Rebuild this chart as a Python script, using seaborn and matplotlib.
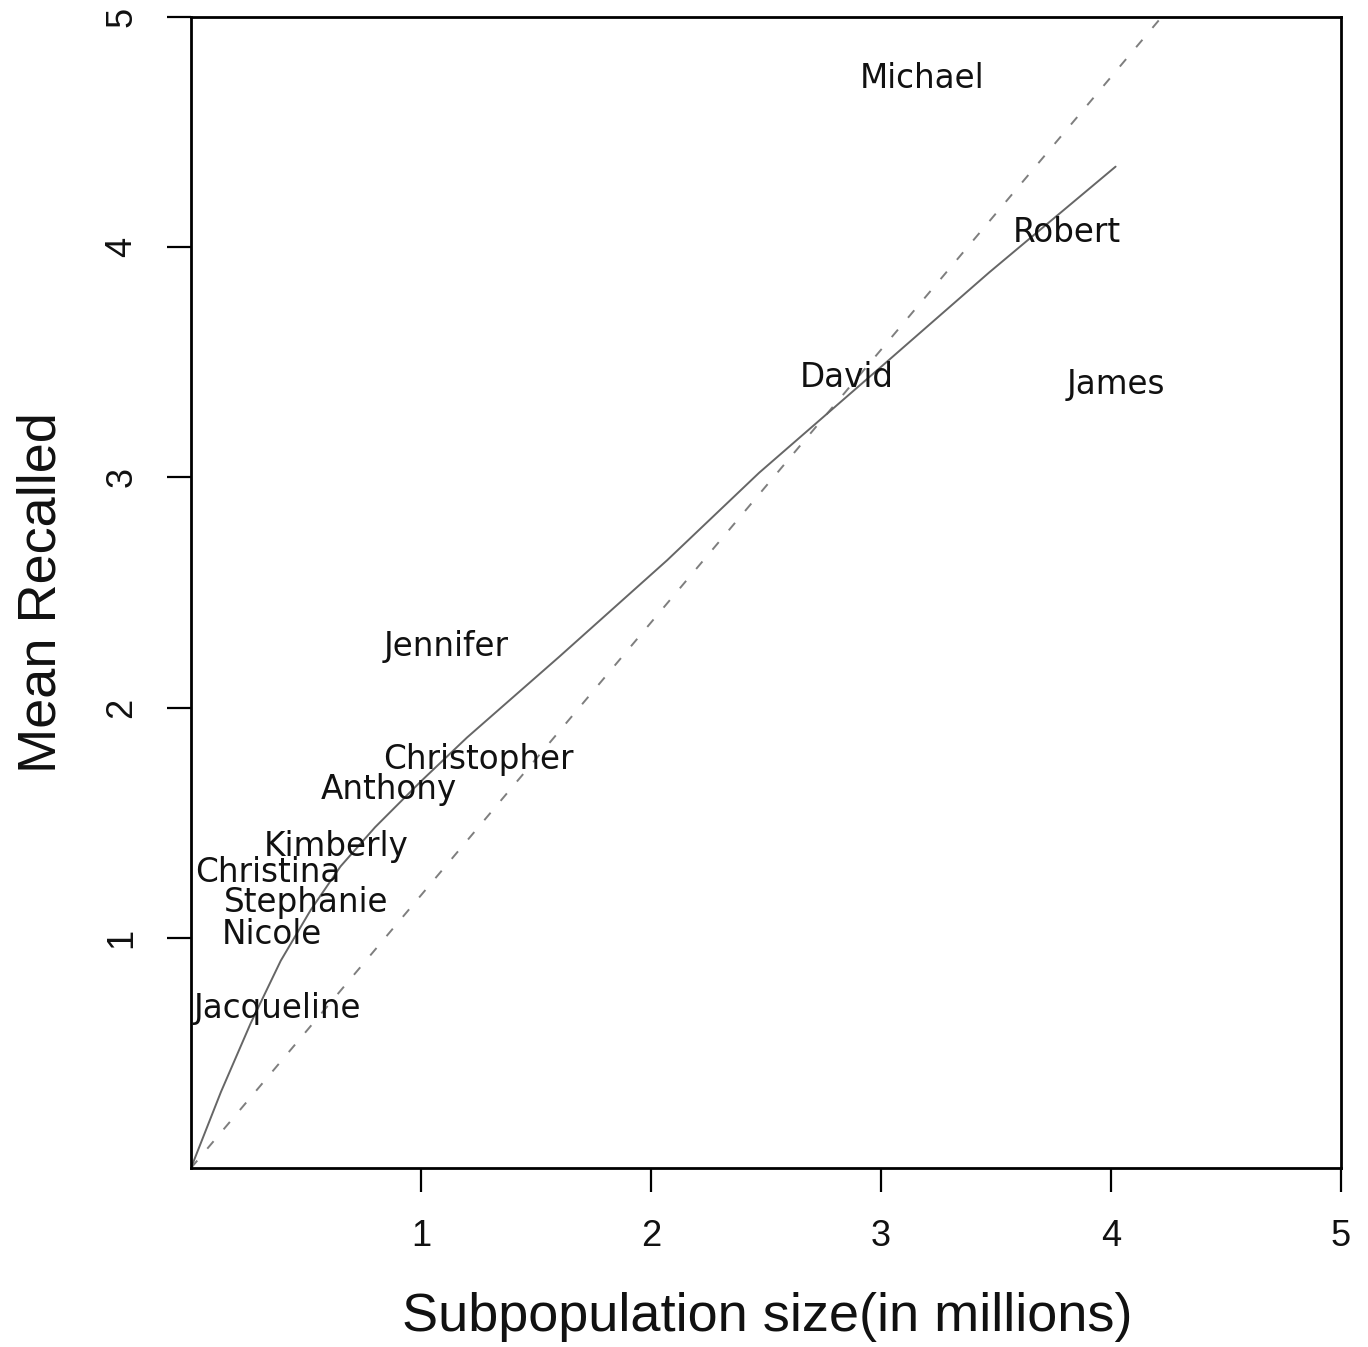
import matplotlib
matplotlib.use('Agg')
import matplotlib.pyplot as plt
import seaborn as sns
import pandas as pd

# ── DATA ──────────────────────────────────────────────────────────────────────
names = ['Michael', 'Robert', 'David', 'James', 'Jennifer', 'Christopher',
         'Anthony', 'Kimberly', 'Christina', 'Stephanie', 'Nicole', 'Jacqueline']
size_millions = [3.18, 3.81, 2.85, 4.02, 1.11, 1.25, 0.86, 0.63, 0.335, 0.50, 0.35, 0.375]
mean_recalled = [4.735, 4.065, 3.435, 3.405, 2.265, 1.775, 1.645, 1.395, 1.285, 1.155, 1.015, 0.695]

# fitted curve (solid)
fit_x = [0, 0.13, 0.26, 0.39, 0.52, 0.65, 0.80, 1.00, 1.20, 1.60, 2.07, 2.47, 3.00, 3.47, 4.02]
fit_y = [0, 0.33, 0.63, 0.90, 1.12, 1.31, 1.48, 1.68, 1.87, 2.22, 2.64, 3.02, 3.48, 3.89, 4.35]

# reference line (dashed)
ref_x = [0, 4.22]
ref_y = [0, 5.0]

x_ticks = [1, 2, 3, 4, 5]
y_ticks = [1, 2, 3, 4, 5]

labels_df = pd.DataFrame({'name': names, 'x': size_millions, 'y': mean_recalled})
fit_df = pd.DataFrame({'x': fit_x, 'y': fit_y})
ref_df = pd.DataFrame({'x': ref_x, 'y': ref_y})

# ── STYLE ─────────────────────────────────────────────────────────────────────
sns.set_theme(style='white')
narrow = ['Liberation Sans Narrow', 'Liberation Sans', 'DejaVu Sans']
plt.rcParams['font.family'] = ['DejaVu Sans']

fig = plt.figure(figsize=(13.68, 13.47), dpi=100)
ax = fig.add_axes([191 / 1368, 1 - 1168 / 1347, 1150 / 1368, 1151 / 1347])

# ── LINES ─────────────────────────────────────────────────────────────────────
sns.lineplot(data=ref_df, x='x', y='y', ax=ax, color='#7e7e7e',
             linewidth=1.4, sort=False)
ax.lines[-1].set_dashes((5, 8))
sns.lineplot(data=fit_df, x='x', y='y', ax=ax, color='#666666',
             linewidth=1.4, sort=False)

# ── NAME LABELS ───────────────────────────────────────────────────────────────
for _, row in labels_df.iterrows():
    ax.text(row['x'], row['y'], row['name'], ha='center', va='center',
            fontsize=23.5, color='#111111', family=['DejaVu Sans'])

# ── AXES ──────────────────────────────────────────────────────────────────────
ax.set_xlim(0, 5)
ax.set_ylim(0, 5)
ax.set_xticks(x_ticks)
ax.set_yticks(y_ticks)
ax.set_xticklabels([str(t) for t in x_ticks], family=narrow, fontsize=26)
ax.set_yticklabels([str(t) for t in y_ticks], family=narrow, fontsize=26,
                   rotation=90, va='center')
ax.tick_params(axis='both', direction='out', length=17, width=1.6,
               color='black', pad=20, labelcolor='#111111',
               bottom=True, left=True)

for s in ax.spines.values():
    s.set_visible(True)
    s.set_color('black')
    s.set_linewidth(2)

ax.set_xlabel('Subpopulation size(in millions)', family=narrow, fontsize=39,
              color='#111111')
ax.set_ylabel('Mean Recalled', family=narrow, fontsize=39, color='#111111')
ax.xaxis.set_label_coords(0.501, -0.108)
ax.yaxis.set_label_coords(-0.108, 0.5)

fig.savefig('out.png', dpi=100, facecolor='white')
